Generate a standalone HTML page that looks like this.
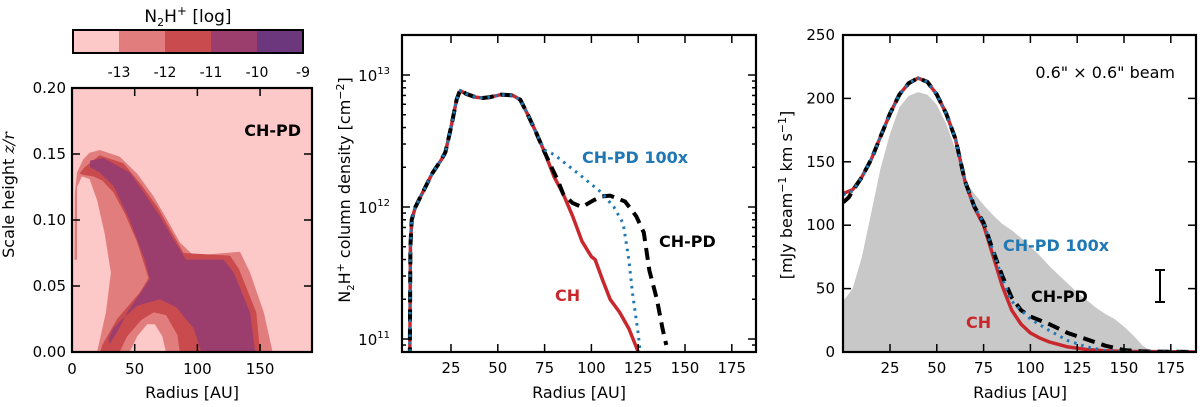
<!DOCTYPE html>
<html><head><meta charset="utf-8">
<style>
html,body{margin:0;padding:0;background:#fff;}
svg{display:block;font-family:"DejaVu Sans","Liberation Sans",sans-serif;}
</style></head>
<body>
<svg id="fig" width="1200" height="407" viewBox="0 0 1200 407" xmlns="http://www.w3.org/2000/svg">
<defs>
<clipPath id="c1"><rect x="72" y="88" width="240" height="264"/></clipPath>
<clipPath id="c2"><rect x="402" y="35" width="354" height="317"/></clipPath>
<clipPath id="c3"><rect x="843" y="35" width="353" height="317"/></clipPath>
</defs>
</svg>
<script>
// ---------- DATA ----------
const cbLevels = [-13, -12, -11, -10, -9];
const cbColors = ["#fcc8c8", "#e27d7e", "#c94b4e", "#9b3e6d", "#6d377d"];
const lvl2Outer = [[2,0.07],[2.3,0.12],[4,0.136],[9,0.146],[14,0.151],[22,0.153],[38,0.148],[52,0.135],[65,0.118],[76,0.1],[86,0.083],[97,0.073],[134,0.076],[142,0.06],[153,0.03],[160,0],[4,0],[4,0.07]];
const leftHole = [[4,0],[4,0.125],[8,0.133],[14,0.131],[20,0.115],[26,0.09],[31,0.06],[27,0.03],[20,0]];
const lvl3Outer = [[6,0.135],[10,0.14],[22,0.149],[41,0.143],[55,0.127],[68,0.11],[80,0.09],[89,0.075],[126,0.073],[133,0.063],[147,0.03],[150,0],[22.6,0],[24,0.005],[36,0.025],[54,0.045],[61,0.056],[52,0.083],[42,0.105],[33,0.121],[24,0.13],[17,0.133],[10,0.134]];
const lvl4Outer = [[14.4,0.145],[25,0.147],[46,0.136],[58,0.12],[70,0.103],[81,0.085],[91,0.07],[121,0.07],[129,0.06],[142,0.03],[146,0],[103,0],[97,0.018],[83,0.034],[70,0.04],[52,0.035],[40,0.025],[33,0.018],[29,0.01],[30,0.006],[36,0.015],[44,0.03],[62,0.055],[58,0.07],[46,0.1],[33,0.126],[22,0.136],[14.4,0.14]];
const hole2 = [[38,0],[44,0.012],[55,0.024],[65,0.03],[75,0.028],[84,0.013],[86,0]];
const hole1 = [[46,0],[52,0.012],[60,0.021],[66,0.021],[72,0.012],[75,0]];

const cdCH = [[3,7e10],[3.3,5e11],[4,8e11],[6,1.0e12],[10,1.3e12],[15,1.8e12],[20,2.3e12],[22,2.6e12],[25,4e12],[28,6.5e12],[30,7.6e12],[33,7.2e12],[38,6.8e12],[42,6.7e12],[46,6.8e12],[52,7.1e12],[58,7.0e12],[62,6.5e12],[66,5e12],[70,3.8e12],[75,2.6e12],[80,1.7e12],[85,1.25e12],[90,8.5e11],[95,5.5e11],[100,4.2e11],[102,4.0e11],[106,2.8e11],[110,2.0e11],[115,1.6e11],[120,1.2e11],[125,8e10]];
const cdPD = [[3,7e10],[3.3,5e11],[4,8e11],[6,1.0e12],[10,1.3e12],[15,1.8e12],[20,2.3e12],[22,2.6e12],[25,4e12],[28,6.5e12],[30,7.8e12],[33,7.2e12],[38,6.8e12],[42,6.7e12],[46,6.8e12],[52,7.1e12],[58,7.0e12],[62,6.5e12],[66,5e12],[70,3.8e12],[75,2.6e12],[78,2.1e12],[82,1.6e12],[85,1.25e12],[90,1.07e12],[95,1.0e12],[100,1.1e12],[105,1.2e12],[110,1.22e12],[118,1.1e12],[124,8.5e11],[128,6.4e11],[131,3.3e11],[135,2e11],[138,1.2e11],[140,9e10]];
const cdPD100 = [[3,7e10],[3.3,5e11],[4,8e11],[6,1.0e12],[10,1.3e12],[15,1.8e12],[20,2.3e12],[22,2.6e12],[25,4e12],[28,6.5e12],[30,7.6e12],[33,7.2e12],[38,6.8e12],[42,6.7e12],[46,6.8e12],[52,7.1e12],[58,7.0e12],[62,6.5e12],[66,5e12],[70,3.8e12],[75,2.7e12],[80,2.5e12],[85,2.2e12],[95,1.7e12],[105,1.3e12],[112,1.0e12],[117,7.5e11],[120,4e11],[122,2.2e11],[125,1.1e11],[126,8e10]];

const obsFill = [[0,40],[5,50],[10,75],[15,110],[20,145],[25,172],[30,193],[35,202],[40,205],[45,203],[50,195],[55,180],[60,160],[65,135],[70,125],[75,116],[80,108],[85,101],[90,96],[95,90],[100,83],[105,76],[110,68],[115,61],[120,54],[125,47],[130,41],[135,35],[140,30],[145,26],[150,20],[155,13],[160,5],[165,0]];
const inCH = [[0,125],[5,128],[10,138],[15,152],[20,170],[25,188],[30,203],[35,212],[40,216],[45,213],[50,203],[55,188],[60,168],[65,135],[70,114],[75,100],[80,76],[85,52],[90,33],[95,22],[100,15],[105,11],[110,8],[115,6],[120,4],[125,3],[130,2],[140,1],[150,0.5],[188,0]];
const inPD = [[0,118],[3,122],[5,127],[10,138],[15,152],[20,170],[25,188],[30,203],[35,212],[40,216],[45,213],[50,203],[55,188],[60,168],[65,135],[70,115],[75,102],[80,80],[85,60],[90,43],[95,33],[100,28],[110,22],[120,15],[130,10],[140,5],[150,1.5],[160,0.5],[188,0]];
const inPD100 = [[0,124],[5,127],[10,138],[15,152],[20,170],[25,188],[30,203],[35,212],[40,216],[45,213],[50,203],[55,188],[60,168],[65,135],[70,115],[75,102],[80,80],[85,58],[90,40],[100,26],[110,17],[120,9],[130,4],[140,1],[150,0],[188,0]];

const p1XTicks = [0,50,100,150];
const p1YTicks = [0,0.05,0.10,0.15,0.20];
const p1YLabels = ["0.00","0.05","0.10","0.15","0.20"];
const p2XTicks = [25,50,75,100,125,150,175];
const p2YTicks = [11,12,13];
const p3XTicks = [25,50,75,100,125,150,175];
const p3YTicks = [0,50,100,150,200,250];

// ---------- HELPERS ----------
const NS = "http://www.w3.org/2000/svg";
const svg = document.getElementById("fig");
function el(tag, attrs, parent){
  const e = document.createElementNS(NS, tag);
  for (const k in attrs) e.setAttribute(k, attrs[k]);
  (parent || svg).appendChild(e);
  return e;
}
function lin(d0,d1,p0,p1){ return v => p0 + (v-d0)/(d1-d0)*(p1-p0); }

const x1 = lin(0, 191.4, 72, 312), y1 = lin(0, 0.2, 352, 88);
const x2 = lin(0, 25, 404.2, 451), y2 = v => 207 - (Math.log10(v)-12)*132;
const y2e = e => 207 - (e-12)*132;
const x3 = lin(0, 25, 843.2, 890), y3 = lin(0, 250, 352, 35);

function pts(arr, fx, fy){ return arr.map(p => fx(p[0]).toFixed(1)+","+fy(p[1]).toFixed(1)).join(" "); }

// ---------- PANEL 1 ----------
const g1 = el("g", {"clip-path":"url(#c1)"});


let r = el("rect", {x:72,y:88,width:240,height:264,fill:cbColors[0]}, g1);


const layers = [[lvl2Outer,cbColors[1],'contour-level-13'],[leftHole,cbColors[0],'left-hole'],[lvl3Outer,cbColors[2],'contour-level-12'],[lvl4Outer,cbColors[3],'contour-level-11'],[hole2,cbColors[1],'hole-ring-13'],[hole1,cbColors[0],'hole-center']];
layers.forEach(L => {
  const p = el("polygon", {points: pts(L[0], x1, y1), fill: L[1]}, g1);
  
  
});

const cbx0 = 73, cbw = 46;
cbLevels.forEach((lv, i) => {
  const c = el("rect", {x: cbx0 + i*cbw, y: 30, width: cbw, height: 23, fill: cbColors[i]});
  
  
  const t = el("text", {x: cbx0 + (i+1)*cbw, y: 77, "font-size": 14, "text-anchor": "middle"});
  t.textContent = lv;
  
  
});
r = el("rect", {x:73,y:30,width:230,height:23,fill:"none",stroke:"#000","stroke-width":2});


let t = el("text", {x:188,y:22,"font-size":17,"text-anchor":"middle"});
t.innerHTML = 'N<tspan font-size="11" dy="4">2</tspan><tspan dy="-4">H</tspan><tspan font-size="12" dy="-7">+</tspan><tspan dy="7"> [log]</tspan>';



// ---------- PANEL 2 ----------
const g2 = el("g", {"clip-path":"url(#c2)"});


let l = el("polyline", {points: pts(cdCH, x2, y2), fill:"none", stroke:"#c8282d","stroke-width":3.5,"stroke-linejoin":"round"}, g2);


l = el("polyline", {points: pts(cdPD, x2, y2), fill:"none", stroke:"#000","stroke-width":4,"stroke-dasharray":"12 7"}, g2);


l = el("polyline", {points: pts(cdPD100, x2, y2), fill:"none", stroke:"#1f78b4","stroke-width":3,"stroke-dasharray":"2.5 5"}, g2);



// ---------- PANEL 3 ----------
const g3 = el("g", {"clip-path":"url(#c3)"});


const fillPts = [[0,0]].concat(obsFill, [[188,0]]);
l = el("polygon", {points: pts(fillPts, x3, y3), fill:"#c8c8c8"}, g3);


l = el("polyline", {points: pts(inCH, x3, y3), fill:"none", stroke:"#c8282d","stroke-width":3.5}, g3);


l = el("polyline", {points: pts(inPD, x3, y3), fill:"none", stroke:"#000","stroke-width":4,"stroke-dasharray":"12 7"}, g3);


l = el("polyline", {points: pts(inPD100, x3, y3), fill:"none", stroke:"#1f78b4","stroke-width":3,"stroke-dasharray":"2.5 5"}, g3);


l = el("path", {d:"M1160 270 V302 M1155 270 H1165 M1155 302 H1165", stroke:"#000","stroke-width":2,fill:"none"});



// ---------- AXES ----------
function frame(x,y,w,h,name){
  const f = el("rect", {x:x,y:y,width:w,height:h,fill:"none",stroke:"#000","stroke-width":2.2});
  
  
}
function tick(x1_,y1_,x2_,y2_){
  const k = el("line", {x1:x1_,y1:y1_,x2:x2_,y2:y2_,stroke:"#000","stroke-width":1.5});
  
  
}
function label(x,y,txt,anchor,size,name){
  const e = el("text", {x:x,y:y,"font-size":size||15,"text-anchor":anchor||"middle"});
  e.textContent = txt;
  
  
  return e;
}
frame(72,88,240,264,'map-frame');
p1XTicks.forEach(v => { const px = x1(v); tick(px,352,px,344); tick(px,88,px,96); label(px,374,v,"middle",15,'x-tick-label'); });
p1YTicks.forEach((v,i) => { const py = y1(v); tick(72,py,80,py); tick(312,py,304,py); label(66,py+5,p1YLabels[i],"end",15,'y-tick-label'); });
label(192,398,"Radius [AU]","middle",16,'x-axis-title');
t = el("text", {"font-size":16,"text-anchor":"middle",transform:"translate(14,195) rotate(-90)"});
t.innerHTML = 'Scale height <tspan font-style="italic" font-family="DejaVu Serif, serif">z/r</tspan>';


t = label(301,136,"CH-PD","end",16,'model-label');
t.setAttribute("font-weight","bold");

frame(402,35,354,317,'column-density-frame');
p2XTicks.forEach(v => { const px = x2(v); tick(px,352,px,344); tick(px,35,px,43); label(px,373,v,"middle",15,'x-tick-label'); });
for (let e = 10; e <= 13; e++) {
  for (let m = 1; m <= 9; m++) {
    const py = y2(m*Math.pow(10,e));
    if (py < 35 || py > 352) continue;
    const len = m === 1 ? 8 : 4;
    tick(402,py,402+len,py); tick(756,py,756-len,py);
  }
}
p2YTicks.forEach(e => {
  const py = y2e(e);
  t = el("text", {x:390,y:py+6,"font-size":15,"text-anchor":"end"});
  t.innerHTML = '10<tspan font-size="10" dy="-7">' + e + '</tspan>';
  
  
});
label(579,398,"Radius [AU]","middle",16,'x-axis-title');
t = el("text", {"font-size":16,"text-anchor":"middle",transform:"translate(350,190) rotate(-90)"});
t.innerHTML = 'N<tspan font-size="10" dy="4">2</tspan><tspan dy="-4">H</tspan><tspan font-size="11" dy="-6">+</tspan><tspan dy="6"> column density [cm</tspan><tspan font-size="11" dy="-6">−2</tspan><tspan dy="6">]</tspan>';


t = label(582,163,"CH-PD 100x","start",16,'label-ch-pd-100x'); t.setAttribute("font-weight","bold"); t.setAttribute("fill","#1f78b4");
t = label(659,247,"CH-PD","start",16,'label-ch-pd'); t.setAttribute("font-weight","bold");
t = label(555,301,"CH","start",16,'label-ch'); t.setAttribute("font-weight","bold"); t.setAttribute("fill","#c8282d");

frame(843,35,353,317,'intensity-frame');
p3XTicks.forEach(v => { const px = x3(v); tick(px,352,px,344); tick(px,35,px,43); label(px,373,v,"middle",15,'x-tick-label'); });
p3YTicks.forEach(v => { const py = y3(v); tick(843,py,851,py); tick(1196,py,1188,py); label(835,py+5,v,"end",15,'y-tick-label'); });
label(1020,398,"Radius [AU]","middle",16,'x-axis-title');
t = el("text", {"font-size":16,"text-anchor":"middle",transform:"translate(792,195) rotate(-90)"});
t.innerHTML = '[mJy beam<tspan font-size="11" dy="-6">−1</tspan><tspan dy="6"> km s</tspan><tspan font-size="11" dy="-6">−1</tspan><tspan dy="6">]</tspan>';


label(1175,78,'0.6" × 0.6" beam',"end",16,'beam-label');
t = label(1003,251,"CH-PD 100x","start",16,'label-ch-pd-100x'); t.setAttribute("font-weight","bold"); t.setAttribute("fill","#1f78b4");
t = label(1031,302,"CH-PD","start",16,'label-ch-pd'); t.setAttribute("font-weight","bold");
t = label(966,328,"CH","start",16,'label-ch'); t.setAttribute("font-weight","bold"); t.setAttribute("fill","#c8282d");
</script>
</body></html>
